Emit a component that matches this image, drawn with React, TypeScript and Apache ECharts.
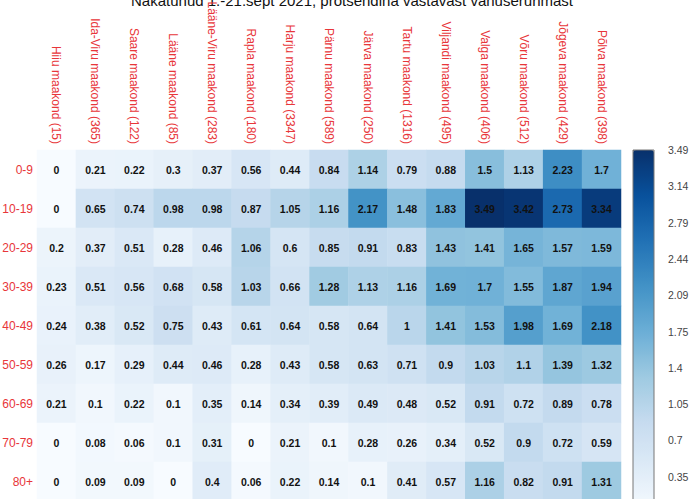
import React, { useEffect, useRef } from "react";
import * as echarts from "echarts";

const titleText = "Nakatunud 1.-21.sept 2021, protsendina vastavast vanuserühmast";

const counties = [
  "Hiiu maakond (15)",
  "Ida-Viru maakond (365)",
  "Saare maakond (122)",
  "Lääne maakond (85)",
  "Lääne-Viru maakond (283)",
  "Rapla maakond (180)",
  "Harju maakond (3347)",
  "Pärnu maakond (589)",
  "Järva maakond (250)",
  "Tartu maakond (1316)",
  "Viljandi maakond (495)",
  "Valga maakond (406)",
  "Võru maakond (512)",
  "Jõgeva maakond (429)",
  "Põlva maakond (398)",
];

const ageGroups = ["0-9", "10-19", "20-29", "30-39", "40-49", "50-59", "60-69", "70-79", "80+"];

const row0_9 = [0, 0.21, 0.22, 0.3, 0.37, 0.56, 0.44, 0.84, 1.14, 0.79, 0.88, 1.5, 1.13, 2.23, 1.7];
const row10_19 = [0, 0.65, 0.74, 0.98, 0.98, 0.87, 1.05, 1.16, 2.17, 1.48, 1.83, 3.49, 3.42, 2.73, 3.34];
const row20_29 = [0.2, 0.37, 0.51, 0.28, 0.46, 1.06, 0.6, 0.85, 0.91, 0.83, 1.43, 1.41, 1.65, 1.57, 1.59];
const row30_39 = [0.23, 0.51, 0.56, 0.68, 0.58, 1.03, 0.66, 1.28, 1.13, 1.16, 1.69, 1.7, 1.55, 1.87, 1.94];
const row40_49 = [0.24, 0.38, 0.52, 0.75, 0.43, 0.61, 0.64, 0.58, 0.64, 1, 1.41, 1.53, 1.98, 1.69, 2.18];
const row50_59 = [0.26, 0.17, 0.29, 0.44, 0.46, 0.28, 0.43, 0.58, 0.63, 0.71, 0.9, 1.03, 1.1, 1.39, 1.32];
const row60_69 = [0.21, 0.1, 0.22, 0.1, 0.35, 0.14, 0.34, 0.39, 0.49, 0.48, 0.52, 0.91, 0.72, 0.89, 0.78];
const row70_79 = [0, 0.08, 0.06, 0.1, 0.31, 0, 0.21, 0.1, 0.28, 0.26, 0.34, 0.52, 0.9, 0.72, 0.59];
const row80 = [0, 0.09, 0.09, 0, 0.4, 0.06, 0.22, 0.14, 0.1, 0.41, 0.57, 1.16, 0.82, 0.91, 1.31];

const rows = [row0_9, row10_19, row20_29, row30_39, row40_49, row50_59, row60_69, row70_79, row80];

const scaleMin = 0;
const scaleMax = 3.49;
const legendStep = 0.349;
const legendLabels = ["0", "0.35", "0.7", "1.05", "1.4", "1.75", "2.09", "2.44", "2.79", "3.14", "3.49"];

const blues = ["#F7FBFF", "#DEEBF7", "#C6DBEF", "#9ECAE1", "#6BAED6", "#4292C6", "#2171B5", "#08519C", "#08306B"];

const FONT = "'Liberation Sans', Arial, sans-serif";
const RED = "#E8363A";

export default function App() {
  const ref = useRef<HTMLDivElement>(null);

  useEffect(() => {
    if (!ref.current) return;
    const chart = echarts.init(ref.current, null, { renderer: "svg" });
    const data: [number, number, number][] = [];
    rows.forEach((r, yi) => r.forEach((v, xi) => data.push([xi, yi, v])));

    chart.setOption({
      animation: false,
      backgroundColor: "#ffffff",
      textStyle: { fontFamily: FONT },
      graphic: [
        {
          type: "text",
          x: 352,
          y: 0,
          style: {
            text: titleText,
            fontSize: 15,
            fontFamily: FONT,
            fill: "#111",
            align: "center",
            verticalAlign: "middle",
          },
        },
      ],
      grid: [
        { left: 37, top: 150, right: 70, bottom: -2, outerBoundsMode: "none", containLabel: false },
        {
          left: 633,
          top: 150,
          width: 21,
          bottom: -14,
          outerBoundsMode: "none",
          containLabel: false,
          show: true,
          borderColor: "#777",
          borderWidth: 1,
          backgroundColor: "transparent",
          z: 10,
        },
      ],
      xAxis: [
        {
          type: "category",
          data: counties,
          position: "top",
          gridIndex: 0,
          axisLine: { show: false },
          axisTick: { show: false },
          splitLine: { show: false },
          axisLabel: {
            rotate: 90,
            color: RED,
            fontSize: 12,
            fontFamily: FONT,
            margin: 6,
            interval: 0,
          },
        },
        { type: "value", gridIndex: 1, show: false, min: 0, max: 1 },
      ],
      yAxis: [
        {
          type: "category",
          data: ageGroups,
          inverse: true,
          gridIndex: 0,
          axisLine: { show: false },
          axisTick: { show: false },
          splitLine: { show: false },
          axisLabel: { color: RED, fontSize: 12, fontFamily: FONT, margin: 4 },
        },
        {
          type: "value",
          gridIndex: 1,
          position: "right",
          min: scaleMin,
          max: scaleMax,
          interval: legendStep,
          axisLine: { show: false },
          splitLine: { show: false },
          axisTick: { show: true, length: 5, lineStyle: { color: "#555" } },
          axisLabel: {
            color: "#444",
            fontSize: 10.5,
            fontFamily: FONT,
            margin: 14,
            formatter: (v: number) => legendLabels[Math.round(v / legendStep)] ?? "",
          },
        },
      ],
      visualMap: {
        type: "continuous",
        min: scaleMin,
        max: scaleMax,
        seriesIndex: 0,
        calculable: false,
        left: 633,
        top: 150,
        itemWidth: 21,
        itemHeight: 363,
        padding: 0,
        text: null,
        hoverLink: false,
        inRange: { color: blues },
      },
      series: [
        {
          type: "heatmap",
          xAxisIndex: 0,
          yAxisIndex: 0,
          data,
          label: {
            show: true,
            color: "#111",
            fontWeight: "bold",
            fontSize: 10.5,
            fontFamily: FONT,
            formatter: (p: any) => String(p.value[2]),
          },
          itemStyle: { borderWidth: 0 },
          emphasis: { disabled: true },
        },
      ],
    });
    return () => chart.dispose();
  }, []);

  return (
    <div
      ref={ref}
      style={{ position: "absolute", left: 0, top: 0, width: 691, height: 499, background: "#fff" }}
    />
  );
}
